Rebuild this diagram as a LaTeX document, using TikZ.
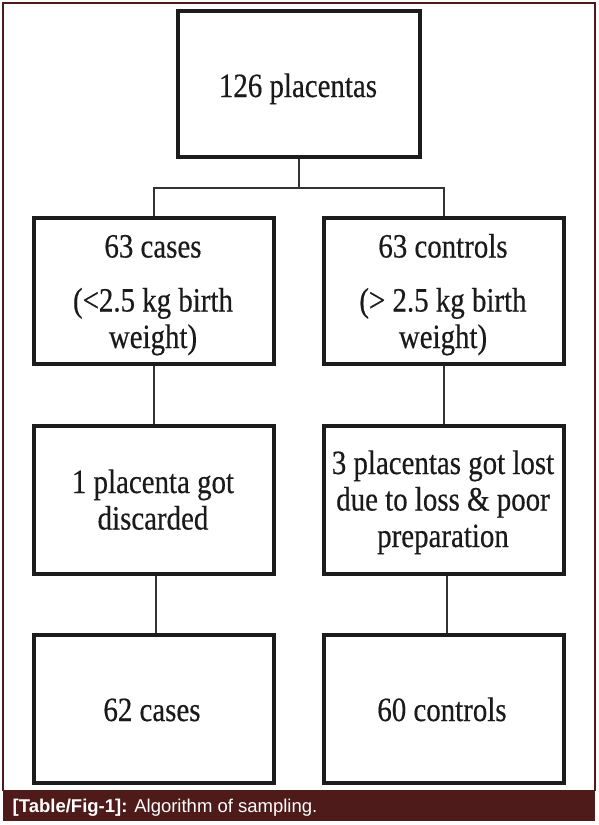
\documentclass[tikz,border=0pt]{standalone}
\usepackage{fontspec}
\setmainfont{Liberation Serif}[FakeStretch=0.85, FakeBold=0.4]
\newfontfamily\capfont{Liberation Sans}
\definecolor{capbg}{HTML}{4E1A1A}
\definecolor{boxline}{HTML}{1C1C1C}
\definecolor{connline}{HTML}{333333}
\definecolor{txtcol}{HTML}{1A1A1A}
\tikzset{
  box/.style={draw=boxline, line width=3.2pt, inner sep=0pt, rectangle, minimum width=240pt},
  conn/.style={draw=connline, line width=2.6pt},
  txt/.style={inner sep=0pt, align=center, text=txtcol, font=\fontsize{34}{36.5}\selectfont},
  captxt/.style={inner sep=0pt, text=white, font=\capfont\fontsize{18.5}{20}\selectfont}
}
\begin{document}
\begin{tikzpicture}[x=1pt,y=-1pt]
\useasboundingbox (0,0) rectangle (598,825);
\fill[white] (0,0) rectangle (598,825);
% outer frame and caption bar
\draw[capbg, line width=1.2pt] (3,791) -- (3,3) -- (595,3) -- (595,791);
\node[fill=capbg, minimum width=592pt, minimum height=31pt, anchor=north west, inner sep=0pt] (capbar) at (3,790) {};
\node[captxt, anchor=base west] (cap) at (12.5,812) {\textbf{[Table/Fig-1]:} Algorithm of sampling.};
% boxes
\node[box, minimum width=242pt, minimum height=146pt] (top) at (299,84) {};
\node[box, minimum height=146pt] (cases) at (154,291) {};
\node[box, minimum height=146pt] (controls) at (444,291) {};
\node[box, minimum height=148pt] (disc) at (154,500) {};
\node[box, minimum height=148pt] (lost) at (444,500) {};
\node[box, minimum height=148pt] (final1) at (154,709) {};
\node[box, minimum height=148pt] (final2) at (444,709) {};
% texts (base anchor = baseline of last line)
\node[txt, anchor=base] (ttop) at (298,97) {126 placentas};
\node[txt, anchor=base] (tcases) at (153,348) {63 cases\\[17.5pt](<2.5 kg birth\\weight)};
\node[txt, anchor=base] (tcontrols) at (443,348) {63 controls\\[17.5pt](> 2.5 kg birth\\weight)};
\node[txt, anchor=base] (tdisc) at (153,529.5) {1 placenta got\\discarded};
\node[txt, anchor=base] (tlost) at (443,547) {3 placentas got lost\\due to loss \& poor\\preparation};
\node[txt, anchor=base] (tf1) at (152,721) {62 cases};
\node[txt, anchor=base] (tf2) at (442,721) {60 controls};
% connectors
\coordinate (split) at (299,188);
\draw[conn] (top.south) -- (split);
\draw[conn] (cases.north) |- (split) -| (controls.north);
\draw[conn] (cases.south) -- (disc.north);
\draw[conn] (controls.south) -- (lost.north);
\draw[conn] ([xshift=2pt]disc.south) -- ([xshift=2pt]final1.north);
\draw[conn] ([xshift=3pt]lost.south) -- ([xshift=3pt]final2.north);
\end{tikzpicture}
\end{document}
